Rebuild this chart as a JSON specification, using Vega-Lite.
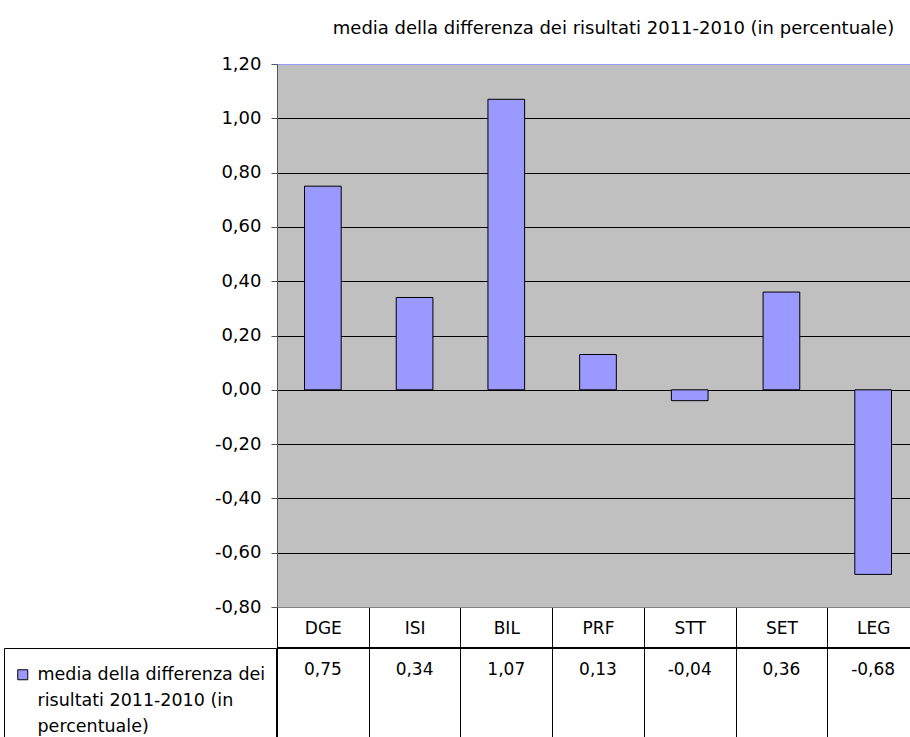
{
  "$schema": "https://vega.github.io/schema/vega-lite/v6.json",
  "width": 633,
  "height": 543,
  "autosize": "none",
  "padding": {"left": 277, "top": 64, "right": 0, "bottom": 130},
  "background": "white",
  "config": {
    "locale": {"number": {"decimal": ",", "thousands": ".", "grouping": [3], "currency": ["€", ""], "minus": "-"}},
    "font": "DejaVu Sans",
    "view": {"fill": "#C0C0C0", "stroke": "#9999FF", "strokeWidth": 1},
    "axis": {"labelFont": "DejaVu Sans", "labelFontSize": 17, "labelColor": "black"},
    "text": {"font": "DejaVu Sans"}
  },
  "title": {
    "text": "media della differenza dei risultati 2011-2010 (in percentuale)",
    "font": "DejaVu Sans",
    "fontSize": 18,
    "fontWeight": "normal",
    "color": "black",
    "anchor": "middle",
    "frame": "group",
    "baseline": "alphabetic",
    "dx": 20,
    "offset": 3
  },
  "data": {
    "values": [
      {"cat": "DGE", "value": 0.75, "series": "media della differenza dei risultati 2011-2010 (in percentuale)"},
      {"cat": "ISI", "value": 0.34, "series": "media della differenza dei risultati 2011-2010 (in percentuale)"},
      {"cat": "BIL", "value": 1.07, "series": "media della differenza dei risultati 2011-2010 (in percentuale)"},
      {"cat": "PRF", "value": 0.13, "series": "media della differenza dei risultati 2011-2010 (in percentuale)"},
      {"cat": "STT", "value": -0.04, "series": "media della differenza dei risultati 2011-2010 (in percentuale)"},
      {"cat": "SET", "value": 0.36, "series": "media della differenza dei risultati 2011-2010 (in percentuale)"},
      {"cat": "LEG", "value": -0.68, "series": "media della differenza dei risultati 2011-2010 (in percentuale)"}
    ]
  },
  "layer": [
    {
      "mark": {"type": "bar", "stroke": "black", "strokeWidth": 1, "width": {"band": 0.4}},
      "encoding": {
        "x": {
          "field": "cat",
          "type": "nominal",
          "sort": null,
          "scale": {"range": [0, 642], "paddingInner": 0, "paddingOuter": 0},
          "axis": {
            "title": null,
            "orient": "bottom",
            "tickBand": "extent",
            "tickSize": 130,
            "tickColor": "black",
            "domainColor": "#808080",
            "labelPadding": -109,
            "labelBaseline": "middle",
            "labelAngle": 0,
            "grid": false
          }
        },
        "y": {
          "field": "value",
          "type": "quantitative",
          "scale": {"domain": [-0.8, 1.2], "nice": false, "zero": false},
          "axis": {
            "title": null,
            "values": [-0.8, -0.6, -0.4, -0.2, 0, 0.2, 0.4, 0.6, 0.8, 1, 1.2],
            "format": ".2f",
            "labelFontSize": 18,
            "tickSize": 6,
            "tickColor": "#555555",
            "domainColor": "#555555",
            "labelPadding": 10,
            "gridColor": {
              "condition": [
                {"test": "datum.value > 1.19", "value": "#9999FF"},
                {"test": "datum.value < -0.79", "value": "#808080"}
              ],
              "value": "black"
            }
          }
        },
        "color": {
          "field": "series",
          "type": "nominal",
          "scale": {"range": ["#9999FF"]},
          "legend": {
            "title": null,
            "orient": "none",
            "legendX": -273,
            "legendY": 584,
            "strokeColor": "black",
            "padding": 10,
            "symbolType": "M-1,0.6 L1,0.6 L1,2.6 L-1,2.6 Z",
            "symbolSize": 100,
            "symbolStrokeColor": "black",
            "symbolStrokeWidth": 1,
            "symbolOpacity": 1,
            "labelFont": "DejaVu Sans",
            "labelFontSize": 17.5,
            "labelColor": "black",
            "labelLimit": 400,
            "labelOffset": 6,
            "labelBaseline": "top",
            "labelExpr": "[substring(datum.label, 0, 26), substring(datum.label, 27, 50), substring(datum.label, 51)]",
            "encode": {
              "labels": {"update": {"lineHeight": {"value": 26}, "dy": {"value": -1}}}
            }
          }
        }
      }
    },
    {
      "mark": {"type": "text", "dy": 63, "fontSize": 17, "baseline": "middle", "color": "black"},
      "encoding": {
        "x": {"field": "cat", "type": "nominal", "sort": null},
        "y": {"datum": -0.8},
        "text": {"field": "value", "type": "quantitative", "format": ".2f"}
      }
    },
    {
      "mark": {"type": "rule", "yOffset": 41, "color": "black", "strokeWidth": 1},
      "encoding": {"y": {"datum": -0.8}}
    }
  ]
}
